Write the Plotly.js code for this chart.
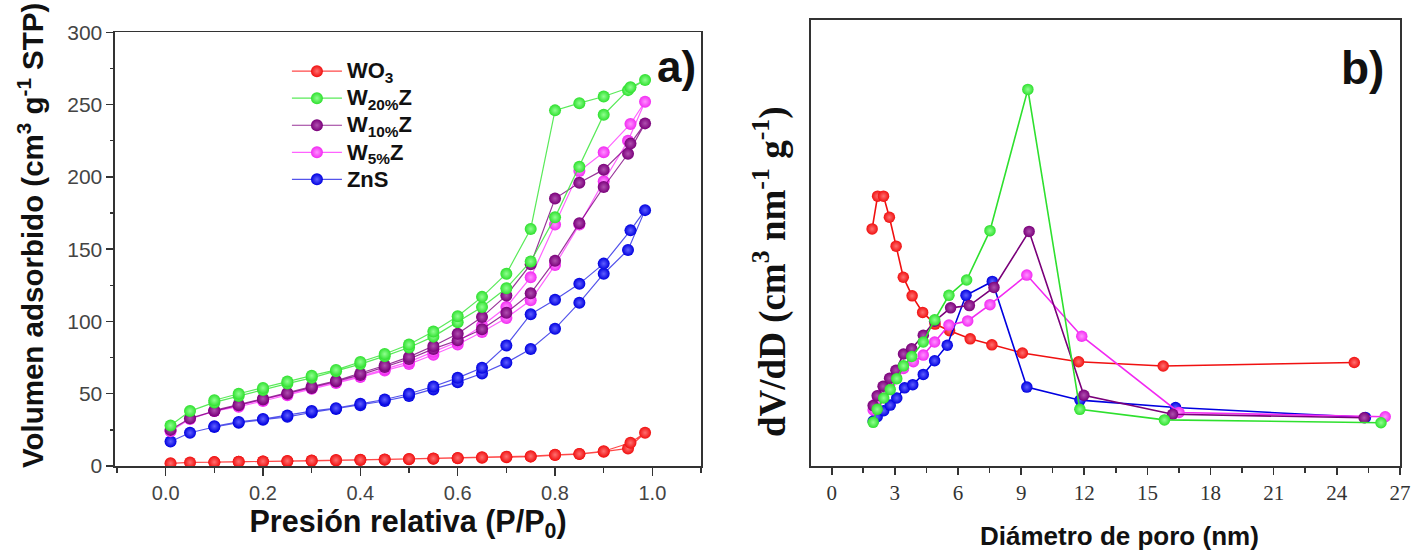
<!DOCTYPE html>
<html>
<head>
<meta charset="utf-8">
<script src="https://cdn.plot.ly/plotly-3.0.1.min.js"></script>
<style>html,body{margin:0;padding:0;background:#fff;}#chart{width:1424px;height:554px;}</style>
</head>
<body>
<div id="chart"></div>
<script>
// ---------- Panel a) : isotherms ----------
const seriesNames = ['WO<sub>3</sub>', 'W<sub>20%</sub>Z', 'W<sub>10%</sub>Z', 'W<sub>5%</sub>Z', 'ZnS'];
const pAds = [0.01,0.05,0.10,0.15,0.20,0.25,0.30,0.35,0.40,0.45,0.50,0.55,0.60,0.65,0.70,0.75,0.80,0.85,0.90,0.95,0.985];
const pDes = [0.955,0.90,0.85,0.80,0.75,0.70,0.65,0.60,0.55,0.50,0.45,0.40,0.35,0.30,0.25,0.20,0.15,0.10];

const wo3Ads  = [1.9,2.5,2.6,3.0,3.1,3.3,3.6,3.9,4.2,4.4,4.7,5.0,5.4,5.7,6.1,6.5,7.6,8.3,9.9,12.2,23];
const wo3Des  = [16.1,10.2,8.4,7.8,6.8,6.5,6.0,5.6,5.2,4.9,4.6,4.3,4.1,3.8,3.5,3.2,3.0,2.7];
const w20Ads  = [28,38,44,48.5,52.5,57,61,65.5,70.5,76,82,89.5,99.5,110,123,141.5,172,207,243,260,267];
const w20Des  = [262,255.6,251,246,164,133,117,103.6,93,84,77.5,72,66.5,62.5,58.5,54,50,45.5];
const w10Ads  = [25,33,38,42,46,50,54,58.5,63,68.5,74,81,87,94.6,106,119.5,142,168,193,216,237];
const w10Des  = [223,205,196,185,139.5,118,103,91.5,83,75.5,69.5,64,59,55,50.5,46.5,42.5,38.5];
const w5Ads   = [24,32.5,38,41,45,49,53.5,57.5,61.5,66,70.5,77,84,92.7,102.4,114.6,139,167,197,225,252];
const w5Des   = [236.6,217,204,167,130.5,110,97,86,79,72,67,62,58,54,49.5,45.5,41.5,38];
const znsAds  = [17,23,27,30,32,34,37,39.5,42,45,48.5,53,58,64,71.5,81,95,113,133,149.5,177];
const znsDes  = [163,140,126,115,105,83.4,68,61,55,50,46,43,40,38,35,32.5,30.5,27.5];

// ---------- Panel b) : pore size distribution (arbitrary units) ----------
const dWO3 = [1.92,2.18,2.46,2.74,3.06,3.40,3.82,4.32,4.91,5.60,6.58,7.61,9.06,11.73,15.75,24.83];
const vWO3 = [67.2,76.5,76.5,70.5,62.3,53.5,48.2,43.5,40.2,38.3,36.0,34.3,32.0,29.5,28.3,29.3];
const dW20 = [1.97,2.16,2.47,2.78,3.09,3.41,3.80,4.35,4.89,5.57,6.41,7.52,9.32,11.79,15.81,26.1];
const vW20 = [12.3,16.0,19.2,21.6,24.7,28.35,31.0,35.1,41.4,48.35,52.7,66.7,106.8,16.0,13.0,12.2];
const dW10 = [1.97,2.16,2.44,2.75,3.05,3.41,3.80,4.35,4.89,5.65,6.54,7.71,9.38,11.98,16.2,25.3];
const vW10 = [17.05,19.85,22.55,24.8,27.1,31.7,33.2,37.0,41.0,44.8,45.45,50.6,66.5,20.0,14.6,13.6];
const dW5  = [1.97,2.16,2.44,2.75,3.05,3.41,3.88,4.35,4.89,5.57,6.46,7.52,9.27,11.88,16.5,26.3];
const vW5  = [15.8,18.3,20.8,23.0,25.3,27.6,29.5,31.4,35.1,39.9,41.1,45.7,54.1,36.75,15.1,13.9];
const dZnS = [1.97,2.16,2.47,2.78,3.09,3.46,3.85,4.35,4.89,5.49,6.38,7.63,9.27,11.8,16.34,25.36];
const vZnS = [12.7,13.9,15.6,17.2,19.2,22.1,23.0,25.9,29.8,34.2,48.35,52.3,22.3,18.6,16.5,13.7];

const xTicksA = [0.0,0.2,0.4,0.6,0.8,1.0];
const xTickTextA = ['0.0','0.2','0.4','0.6','0.8','1.0'];
const yTicksA = [0,50,100,150,200,250,300];
const xTicksB = [0,3,6,9,12,15,18,21,24,27];

const colors   = ['#f01010','#2ee02e','#7a007a','#f22af2','#0000e0'];
const hiColors = ['#ff7070','#90ff90','#b050b0','#ff90ff','#6060ff'];
const lineColA = ['rgba(255,40,40,0.85)','rgba(60,230,60,0.85)','rgba(128,0,128,0.8)','rgba(255,60,255,0.8)','rgba(40,40,230,0.8)'];

const adsList = [wo3Ads,w20Ads,w10Ads,w5Ads,znsAds];
const desList = [wo3Des,w20Des,w10Des,w5Des,znsDes];
const dList = [dWO3,dW20,dW10,dW5,dZnS];
const vList = [vWO3,vW20,vW10,vW5,vZnS];

const traces = [];
const orderA = [4,3,2,1,0];
orderA.forEach(i => {
  traces.push({
    type:'scatter', mode:'lines+markers',
    x: pAds.concat(pDes), y: adsList[i].concat(desList[i]),
    xaxis:'x', yaxis:'y',
    name: '<span style="font-size:22px"><b>' + seriesNames[i] + '</b></span>', legendrank: i+1,
    line:{color:lineColA[i], width:1.2},
    marker:{size:12, color:colors[i], gradient:{type:'radial', color:hiColors[i]}, line:{width:0}}
  });
});
const orderB = [0,4,3,2,1];
orderB.forEach(i => {
  traces.push({
    type:'scatter', mode:'lines+markers',
    x: dList[i], y: vList[i],
    xaxis:'x2', yaxis:'y2', showlegend:false,
    name: seriesNames[i],
    line:{color:colors[i], width:1.6},
    marker:{size:11.5, color:colors[i], gradient:{type:'radial', color:hiColors[i]}, line:{width:0}}
  });
});

const axisCol = '#333333';
const sans = 'Liberation Sans, Arial, sans-serif';
const serif = 'Liberation Serif, Times New Roman, serif';

const layout = {
  width:1424, height:554,
  margin:{l:0,r:0,t:0,b:0},
  paper_bgcolor:'#ffffff', plot_bgcolor:'#ffffff',
  showlegend:true,
  legend:{x:0.2015, y:0.905, xanchor:'left', yanchor:'top', bgcolor:'rgba(0,0,0,0)',
          font:{family:sans, size:18.5, color:'#111'}, tracegroupgap:0, itemwidth:50},
  xaxis:{domain:[0.0808,0.4923], anchor:'y', range:[-0.104,1.1],
         tickvals:xTicksA, ticktext:xTickTextA, ticks:'outside', ticklen:8, tickwidth:1.5, tickcolor:axisCol,
         minor:{dtick:0.1, tick0:0, ticks:'outside', ticklen:5, tickwidth:1.5, tickcolor:axisCol, showgrid:false},
         showline:true, linecolor:axisCol, linewidth:1.6, mirror:true, showgrid:false, zeroline:false,
         tickfont:{family:sans, size:20, color:'#444'},
         title:{text:'<b>Presión relativa (P/P<sub>0</sub>)</b>', font:{family:sans, size:30.5, color:'#111'}, standoff:7}},
  yaxis:{domain:[0.1588,0.9417], anchor:'x', range:[0,300],
         tickvals:yTicksA, ticks:'outside', ticklen:7, tickwidth:1.5, tickcolor:axisCol,
         minor:{dtick:25, tick0:0, ticks:'outside', ticklen:3, tickwidth:1.5, tickcolor:axisCol, showgrid:false},
         showline:true, linecolor:axisCol, linewidth:1.6, mirror:true, showgrid:false, zeroline:false,
         tickfont:{family:sans, size:21, color:'#444'}},
  xaxis2:{domain:[0.5693,0.9831], anchor:'y2', range:[-1,27],
         tickvals:xTicksB, ticks:'outside', ticklen:7, tickwidth:1.6, tickcolor:axisCol,
         minor:{dtick:1.5, tick0:0, ticks:'outside', ticklen:5, tickwidth:1.6, tickcolor:axisCol, showgrid:false},
         showline:true, linecolor:axisCol, linewidth:2, mirror:true, showgrid:false, zeroline:false,
         tickfont:{family:serif, size:21, color:'#333'}},
  yaxis2:{domain:[0.1594,0.9639], anchor:'x2', range:[0,126.5],
         showticklabels:false, ticks:'',
         showline:true, linecolor:axisCol, linewidth:2, mirror:true, showgrid:false, zeroline:false},
  annotations:[
    {xref:'paper', yref:'paper', x:30/1424, y:1-236/554, textangle:-90,
     text:'<b>Volumen adsorbido (cm<sup>3</sup> g<sup>-1</sup> STP)</b>', showarrow:false,
     font:{family:sans, size:29.5, color:'#111'}, xanchor:'center', yanchor:'middle'},
    {xref:'paper', yref:'paper', x:770/1424, y:1-272/554, textangle:-90,
     text:'<b>dV/dD (cm<sup>3</sup> nm<sup>-1</sup> g<sup>-1</sup>)</b>', showarrow:false,
     font:{family:serif, size:37, color:'#111'}, xanchor:'center', yanchor:'middle'},
    {xref:'paper', yref:'paper', x:1119/1424, y:1-536/554,
     text:'<b>Diámetro de poro (nm)</b>', showarrow:false,
     font:{family:sans, size:26, color:'#111'}, xanchor:'center', yanchor:'middle'},
    {xref:'paper', yref:'paper', x:676/1424, y:1-66/554, text:'<b>a)</b>', showarrow:false,
     font:{family:sans, size:44, color:'#111'}, xanchor:'center', yanchor:'middle'},
    {xref:'paper', yref:'paper', x:1362/1424, y:1-68/554, text:'<b>b)</b>', showarrow:false,
     font:{family:sans, size:46, color:'#111'}, xanchor:'center', yanchor:'middle'}
  ]
};

Plotly.newPlot('chart', traces, layout, {displayModeBar:false, staticPlot:true});
</script>
</body>
</html>
